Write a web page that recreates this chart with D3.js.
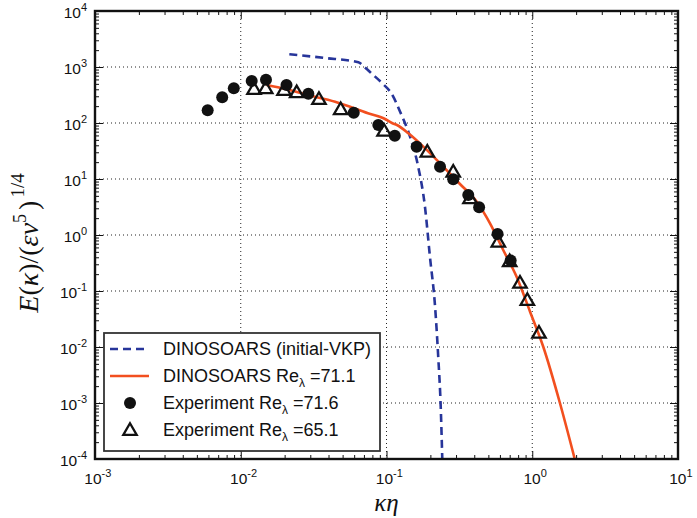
<!DOCTYPE html>
<html>
<head>
<meta charset="utf-8">
<script src="https://cdn.jsdelivr.net/npm/d3@7"></script>
<style>
  html, body { margin: 0; padding: 0; background: #fff; }
  svg { display: block; }
  text { font-family: "Liberation Sans", Arial, sans-serif; }
</style>
</head>
<body>
<svg id="chart" width="697" height="518"></svg>
<script>
// Energy spectra: simulation curves and experimental points
const vkpK   = [0.02154, 0.0378, 0.0641, 0.0711, 0.0797, 0.0931, 0.1086, 0.124, 0.145, 0.165, 0.1836, 0.1986, 0.2154, 0.2264, 0.2355, 0.2415];
const vkpE   = [1686, 1448, 1213, 980, 750, 518, 330, 159, 56.9, 16.6, 3.2, 0.41, 0.0525, 0.00671, 0.00086, 0.000096];

const simK   = [0.01503, 0.0204, 0.0276, 0.0444, 0.0746, 0.0977, 0.109, 0.118, 0.1413, 0.179, 0.245, 0.319, 0.416, 0.513, 0.632, 0.781, 0.966, 1.19, 1.55, 1.965];
const simE   = [477, 405, 325, 240, 149, 118, 100, 92, 65.5, 37.8, 16.6, 8.15, 3.93, 1.62, 0.54, 0.18, 0.0427, 0.0101, 0.00099, 0.0000959];

const exp716K = [0.00593, 0.00746, 0.00896, 0.01189, 0.0149, 0.0206, 0.0291, 0.0596, 0.0879, 0.114, 0.161, 0.233, 0.287, 0.364, 0.432, 0.578, 0.711];
const exp716E = [168.6, 288, 417, 562, 593, 477, 334, 153, 92, 59.3, 37.8, 16.6, 9.88, 5.18, 3.12, 1.04, 0.35];

const exp651K = [0.01233, 0.01483, 0.0198, 0.0242, 0.0344, 0.0485, 0.0962, 0.1905, 0.287, 0.374, 0.585, 0.70, 0.824, 0.925, 1.112];
const exp651E = [405, 417, 388, 353, 268, 176, 72.8, 30.7, 13.5, 4.52, 0.76, 0.34, 0.1406, 0.069, 0.018];

const xMajor = [1e-3, 1e-2, 1e-1, 1e0, 1e1];
const xExp   = ["-3", "-2", "-1", "0", "1"];
const yMajor = [1e-4, 1e-3, 1e-2, 1e-1, 1e0, 1e1, 1e2, 1e3, 1e4];
const yExp   = ["-4", "-3", "-2", "-1", "0", "1", "2", "3", "4"];

const legendLabels = [
  { text: "DINOSOARS (initial-VKP)" },
  { text: "DINOSOARS Re", sub: "λ", tail: " =71.1" },
  { text: "Experiment Re", sub: "λ", tail: " =71.6" },
  { text: "Experiment Re", sub: "λ", tail: " =65.1" }
];

const blue = "#27359a";
const red = "#f24f1f";

const plot = { left: 95, right: 678, top: 11, bottom: 459 };
const svg = d3.select("#chart");

const x = d3.scaleLog().domain([1e-3, 1e1]).range([plot.left, plot.right]);
const y = d3.scaleLog().domain([1e-4, 1e4]).range([plot.bottom, plot.top]);

function minorTicks(majors) {
  const out = [];
  for (let i = 0; i < majors.length - 1; i++)
    for (let m = 2; m <= 9; m++) out.push(majors[i] * m);
  return out;
}
const xMinor = minorTicks(xMajor);
const yMinor = minorTicks(yMajor);

// dotted grid at decades
const grid = svg.append("g").attr("stroke", "#222").attr("stroke-width", 1).attr("stroke-dasharray", "1,3");
grid.selectAll("line.gx").data(xMajor.slice(1, -1)).join("line")
  .attr("x1", d => x(d)).attr("x2", d => x(d)).attr("y1", plot.top).attr("y2", plot.bottom);
grid.selectAll("line.gy").data(yMajor.slice(1, -1)).join("line")
  .attr("y1", d => y(d)).attr("y2", d => y(d)).attr("x1", plot.left).attr("x2", plot.right);

// clip region for curves
svg.append("clipPath").attr("id", "clip").append("rect")
  .attr("x", plot.left).attr("y", plot.top)
  .attr("width", plot.right - plot.left).attr("height", plot.bottom - plot.top);

const line = d3.line().x(d => x(d[0])).y(d => y(d[1]));
const curves = svg.append("g").attr("clip-path", "url(#clip)");

curves.append("path")
  .datum(d3.zip(vkpK, vkpE))
  .attr("d", line.curve(d3.curveMonotoneX))
  .attr("fill", "none").attr("stroke", blue).attr("stroke-width", 2.6)
  .attr("stroke-dasharray", "8,5");

curves.append("path")
  .datum(d3.zip(simK, simE))
  .attr("d", line.curve(d3.curveMonotoneX))
  .attr("fill", "none").attr("stroke", red).attr("stroke-width", 2.6);

// experimental points
const tri = d3.symbol().type(d3.symbolTriangle).size(78);
svg.append("g").selectAll("circle").data(d3.zip(exp716K, exp716E)).join("circle")
  .attr("cx", d => x(d[0])).attr("cy", d => y(d[1])).attr("r", 6)
  .attr("fill", "#111");
svg.append("g").selectAll("path").data(d3.zip(exp651K, exp651E)).join("path")
  .attr("d", tri)
  .attr("transform", d => `translate(${x(d[0])},${y(d[1]) + 1})`)
  .attr("fill", "none").attr("stroke", "#111").attr("stroke-width", 2.3)
  .attr("stroke-linejoin", "miter");

// axes: ticks pointing inward on every side
function styleAxis(g) {
  g.select(".domain").remove();
  g.selectAll(".tick line").attr("stroke", "#111").attr("stroke-width", 1);
}
const noLabel = () => "";

function addAxis(axisFn, scale, transform, majors, minors, labels) {
  const gMaj = svg.append("g").attr("transform", transform)
    .call(axisFn(scale).tickValues(majors).tickSizeInner(-8).tickSizeOuter(0).tickPadding(labels ? 9 : 0)
      .tickFormat(labels ? () => "10" : noLabel));
  styleAxis(gMaj);
  gMaj.attr("font-size", null).attr("font-family", null);
  svg.append("g").attr("transform", transform)
    .call(axisFn(scale).tickValues(minors).tickSizeInner(-4).tickSizeOuter(0).tickFormat(noLabel))
    .call(styleAxis);
  return gMaj;
}

const gx = addAxis(d3.axisBottom, x, `translate(0,${plot.bottom})`, xMajor, xMinor, true);
addAxis(d3.axisTop, x, `translate(0,${plot.top})`, xMajor, xMinor, false);
const gy = addAxis(d3.axisLeft, y, `translate(${plot.left},0)`, yMajor, yMinor, true);
addAxis(d3.axisRight, y, `translate(${plot.right},0)`, yMajor, yMinor, false);

gx.selectAll(".tick text").each(function (d, i) {
  const t = d3.select(this).style("font-size", "15.5px").attr("fill", "#111")
    .attr("dy", "1.0em").attr("dx", "0.15em");
  t.append("tspan").style("font-size", "11px").attr("dy", -7).text(xExp[i]);
});
gy.selectAll(".tick text").each(function (d, i) {
  const t = d3.select(this).style("font-size", "15.5px").attr("fill", "#111")
    .attr("dy", "0.45em").attr("x", -8);
  t.append("tspan").style("font-size", "11px").attr("dy", -7).text(yExp[i]);
});

// frame
svg.append("rect")
  .attr("x", plot.left).attr("y", plot.top)
  .attr("width", plot.right - plot.left).attr("height", plot.bottom - plot.top)
  .attr("fill", "none").attr("stroke", "#111").attr("stroke-width", 2.4);

// axis titles
const serif = "'Liberation Serif', 'DejaVu Serif', serif";
svg.append("text")
  .attr("x", (plot.left + plot.right) / 2).attr("y", 511)
  .attr("text-anchor", "middle").style("font-family", serif).attr("font-style", "italic")
  .style("font-size", "25px").attr("fill", "#111").text("κη");

const yt = svg.append("text")
  .attr("transform", "translate(38,243) rotate(-90)")
  .attr("text-anchor", "middle").style("font-family", serif)
  .style("font-size", "28px").attr("fill", "#111");
yt.append("tspan").attr("font-style", "italic").text("E");
yt.append("tspan").text("(");
yt.append("tspan").attr("font-style", "italic").text("κ");
yt.append("tspan").text(")/(");
yt.append("tspan").attr("font-style", "italic").text("εν");
yt.append("tspan").style("font-size", "18px").attr("dy", -12).text("5");
yt.append("tspan").attr("dy", 12).attr("dx", 4).text(")");
yt.append("tspan").style("font-size", "19px").attr("dy", -14).attr("dx", 3).text("1/4");

// legend
const lg = svg.append("g");
lg.append("rect").attr("x", 104).attr("y", 333).attr("width", 276).attr("height", 118)
  .attr("fill", "#fff").attr("stroke", "#333").attr("stroke-width", 1.8);
const rowY = [349, 376, 403, 430];
lg.append("line").attr("x1", 110).attr("x2", 149).attr("y1", rowY[0]).attr("y2", rowY[0])
  .attr("stroke", blue).attr("stroke-width", 2.6).attr("stroke-dasharray", "8,5");
lg.append("line").attr("x1", 110).attr("x2", 149).attr("y1", rowY[1]).attr("y2", rowY[1])
  .attr("stroke", red).attr("stroke-width", 2.6);
lg.append("circle").attr("cx", 130).attr("cy", rowY[2]).attr("r", 6).attr("fill", "#111");
lg.append("path").attr("d", tri).attr("transform", `translate(130,${rowY[3] + 1})`)
  .attr("fill", "none").attr("stroke", "#111").attr("stroke-width", 2.3);

legendLabels.forEach((l, i) => {
  const t = lg.append("text").attr("x", 163).attr("y", rowY[i] + 6)
    .style("font-size", "18px").attr("fill", "#111").text(l.text);
  if (l.sub) {
    t.append("tspan").style("font-size", "12px").attr("dy", 5).text(l.sub);
    t.append("tspan").attr("dy", -5).text(l.tail);
  }
});
</script>
</body>
</html>
